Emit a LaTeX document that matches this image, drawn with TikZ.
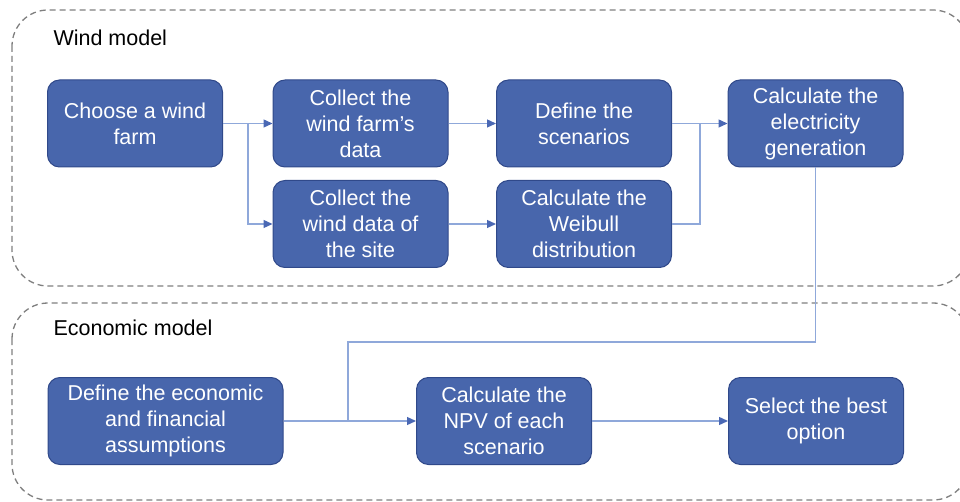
\documentclass[tikz,border=0pt]{standalone}
\usepackage{fontspec}
\setmainfont{Liberation Sans}
\usetikzlibrary{arrows.meta}
\definecolor{boxblue}{HTML}{4866AC}
\definecolor{boxedge}{HTML}{30498A}
\definecolor{linkblue}{HTML}{8FA8DA}
\definecolor{tipblue}{HTML}{4A68B4}
\definecolor{framegray}{HTML}{7F7F7F}

\begin{document}
\begin{tikzpicture}[x=1pt,y=-1pt,
	every node/.style={font=\fontsize{21.5}{26}\selectfont},
	stage/.style={draw=boxedge, fill=boxblue, text=white, rounded corners=12pt, align=center,
		minimum width=175pt, minimum height=87pt, inner sep=0pt, line width=1pt},
	conn/.style={draw=linkblue, line width=1.3pt},
	link/.style={conn, -{Triangle[length=9pt,width=8pt,color=tipblue]}},
	group/.style={draw=framegray, dash pattern=on 6pt off 4pt, line width=1.3pt, rounded corners=36pt}]
	\useasboundingbox (0,0) rectangle (960,502);

	\draw[group] (12,10) rectangle (969,286);
	\draw[group] (12,303) rectangle (969,500);

	\node[anchor=west] (windlbl) at (50,38) {Wind model};
	\node[anchor=west] (econlbl) at (50,328) {Economic model};

	\node[stage] (farm) at (135,123.5) {Choose a wind\\farm};
	\node[stage] (farmdata) at (360.5,123.5) {Collect the\\wind farm’s\\data};
	\node[stage] (scen) at (584,123.5) {Define the\\scenarios};
	\node[stage] (elec) at (815.5,123.5) {Calculate the\\electricity\\generation};
	\node[stage] (sitedata) at (360.5,224) {Collect the\\wind data of\\the site};
	\node[stage] (weib) at (584,224) {Calculate the\\Weibull\\distribution};
	\node[stage, minimum width=235pt] (assum) at (165.5,421) {Define the economic\\and financial\\assumptions};
	\node[stage] (npv) at (504,421) {Calculate the\\NPV of each\\scenario};
	\node[stage] (best) at (816,421) {Select the best\\option};

	\coordinate (split) at (248,123.5);
	\coordinate (merge) at (700,123.5);
	\coordinate (turn) at (348,342);

	\draw[conn] (farm.east) -- (split);
	\draw[link] (split) -- (farmdata.west);
	\draw[link] (split) |- (sitedata.west);
	\draw[link] (farmdata.east) -- (scen.west);
	\draw[link] (sitedata.east) -- (weib.west);
	\draw[conn] (scen.east) -- (merge);
	\draw[conn] (weib.east) -| (merge);
	\draw[link] (merge) -- (elec.west);
	\draw[conn] (elec.south) |- (turn) -- (turn |- npv.west);
	\draw[link] (assum.east) -- (npv.west);
	\draw[link] (npv.east) -- (best.west);
\end{tikzpicture}
\end{document}
